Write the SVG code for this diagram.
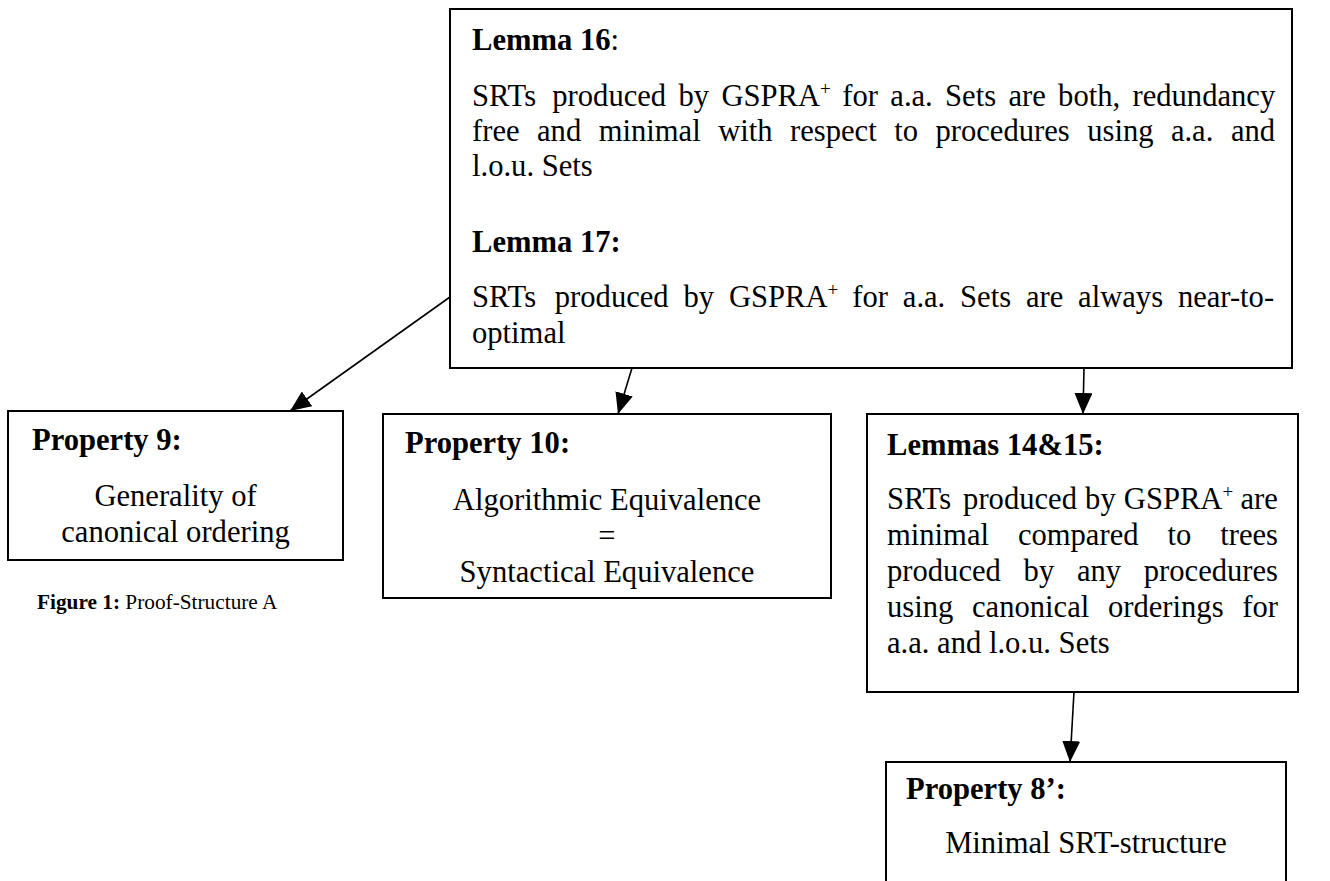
<svg xmlns="http://www.w3.org/2000/svg" width="1330" height="881" viewBox="0 0 1330 881">
<style>
text{font-family:"Liberation Serif","Times New Roman",serif;font-size:30.6px;fill:#000}
.b{font-weight:bold}
.c{text-anchor:middle}
.sup{font-size:19px}
.box{fill:#fff;stroke:#000;stroke-width:2}
.conn{stroke:#000;stroke-width:1.6;fill:none}
.cap{font-size:21.3px}
</style>
<defs>
<marker id="ah" markerUnits="userSpaceOnUse" markerWidth="22" markerHeight="18" refX="21" refY="9" orient="auto">
<path d="M0,0 L21,9 L0,18 z" fill="#000"/>
</marker>
</defs>
<g id="connectors">
<line class="conn" x1="450" y1="297" x2="290" y2="411" marker-end="url(#ah)"/>
<line class="conn" x1="632" y1="368" x2="618" y2="414" marker-end="url(#ah)"/>
<line class="conn" x1="1084" y1="368" x2="1083" y2="414" marker-end="url(#ah)"/>
<line class="conn" x1="1074" y1="692" x2="1070" y2="762" marker-end="url(#ah)"/>
</g>
<g id="lemma16-17">
<rect class="box" x="450" y="9" width="842" height="359"/>
<text x="472" y="50"><tspan class="b">Lemma 16</tspan>:</text>
<text y="106"><tspan x="472">SRTs</tspan><tspan x="552.3">produced</tspan><tspan x="678.5">by</tspan><tspan x="721.4">GSPRA</tspan><tspan class="sup" dy="-11">+</tspan><tspan x="842.3" dy="11">for</tspan><tspan x="890.3">a.a.</tspan><tspan x="945.1">Sets</tspan><tspan x="1008.4">are</tspan><tspan x="1058.1">both,</tspan><tspan x="1132.5">redundancy</tspan></text>
<text y="141"><tspan x="472">free</tspan><tspan x="537">and</tspan><tspan x="598.7">minimal</tspan><tspan x="718.2">with</tspan><tspan x="790">respect</tspan><tspan x="894.2">to</tspan><tspan x="935.5">procedures</tspan><tspan x="1087.2">using</tspan><tspan x="1170.9">a.a.</tspan><tspan x="1230.9">and</tspan></text>
<text x="472" y="176">l.o.u. Sets</text>
<text class="b" x="472" y="252">Lemma 17:</text>
<text y="307"><tspan x="472">SRTs</tspan><tspan x="554.8">produced</tspan><tspan x="683.5">by</tspan><tspan x="728.9">GSPRA</tspan><tspan class="sup" dy="-11">+</tspan><tspan x="852.3" dy="11">for</tspan><tspan x="902.8">a.a.</tspan><tspan x="960.1">Sets</tspan><tspan x="1025.9">are</tspan><tspan x="1078.1">always</tspan><tspan x="1177.9">near-to-</tspan></text>
<text x="472" y="343">optimal</text>
</g>
<g id="property9">
<rect class="box" x="8" y="411" width="335" height="149"/>
<text class="b" x="32" y="450">Property 9:</text>
<text class="c" x="175.5" y="506">Generality of</text>
<text class="c" x="175.5" y="542">canonical ordering</text>
</g>
<g id="property10">
<rect class="box" x="383" y="414" width="448" height="184"/>
<text class="b" x="405" y="453">Property 10:</text>
<text class="c" x="607" y="510">Algorithmic Equivalence</text>
<text class="c" x="607" y="546">=</text>
<text class="c" x="607" y="582">Syntactical Equivalence</text>
</g>
<g id="lemmas14-15">
<rect class="box" x="867" y="414" width="431" height="278"/>
<text class="b" x="887" y="455">Lemmas 14&amp;15:</text>
<text y="509"><tspan x="887">SRTs</tspan><tspan x="963.1">produced</tspan><tspan x="1085.1">by</tspan><tspan x="1123.8">GSPRA</tspan><tspan class="sup" dy="-11">+</tspan><tspan x="1240.5" dy="11">are</tspan></text>
<text y="545"><tspan x="887">minimal</tspan><tspan x="1017.9">compared</tspan><tspan x="1167.5">to</tspan><tspan x="1220.2">trees</tspan></text>
<text y="581"><tspan x="887">produced</tspan><tspan x="1023.6">by</tspan><tspan x="1076.9">any</tspan><tspan x="1143.8">procedures</tspan></text>
<text y="617"><tspan x="887">using</tspan><tspan x="972">canonical</tspan><tspan x="1108">orderings</tspan><tspan x="1242.3">for</tspan></text>
<text x="887" y="653">a.a. and l.o.u. Sets</text>
</g>
<g id="property8">
<path class="box" d="M886,895 L886,762 L1286,762 L1286,895"/>
<text class="b" x="906" y="799">Property 8’:</text>
<text class="c" x="1086" y="853">Minimal SRT-structure</text>
</g>
<g id="caption">
<text class="cap" x="37" y="609"><tspan class="b">Figure 1:</tspan> Proof-Structure A</text>
</g>
</svg>
